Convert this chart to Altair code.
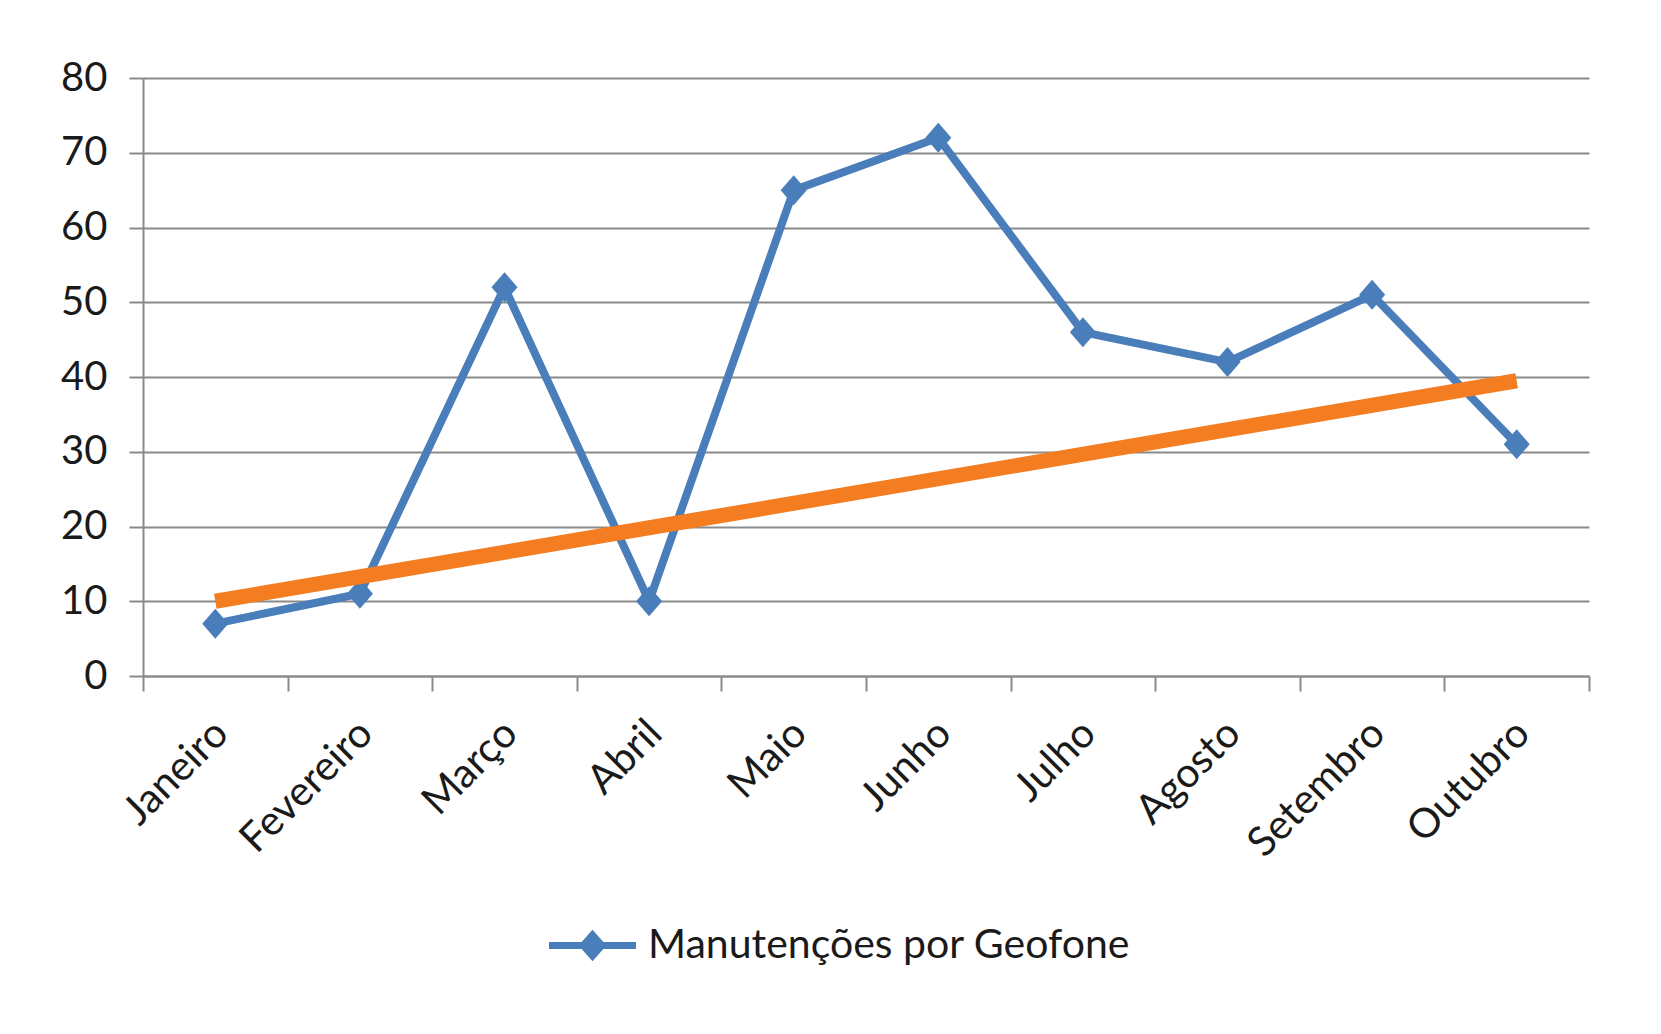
import altair as alt
import pandas as pd

meses = ["Janeiro", "Fevereiro", "Março", "Abril", "Maio", "Junho",
         "Julho", "Agosto", "Setembro", "Outubro"]
manutencoes = [7, 11, 52, 10, 65, 72, 46, 42, 51, 31]
serie_nome = "Manutenções por Geofone"
tendencia_meses = ["Janeiro", "Outubro"]
tendencia_valores = [10, 39.5]
y_ticks = [0, 10, 20, 30, 40, 50, 60, 70, 80]

BLUE = "#4A7EBB"
ORANGE = "#F47D22"
GRID = "#8a8a8a"
FONT = "Lato"

df = pd.DataFrame({"mes": meses, "valor": manutencoes, "serie": serie_nome})
df_t = pd.DataFrame({"mes": tendencia_meses, "valor": tendencia_valores})

x_enc = alt.X(
    "mes:N", sort=meses, bandPosition=0.5,
    scale=alt.Scale(type="band", domain=meses, paddingInner=0, paddingOuter=0),
    axis=alt.Axis(
        title=None, labelAngle=-45, tickBand="extent", grid=False,
        domainColor=GRID, domainWidth=2, tickColor=GRID, tickWidth=2, tickSize=15,
        labelFont=FONT, labelFontSize=41, labelColor="#1a1a1a", labelPadding=22,
        labelOffset=-8,
    ),
)
y_enc = alt.Y(
    "valor:Q",
    scale=alt.Scale(domain=[0, 80], nice=False),
    axis=alt.Axis(
        title=None, values=y_ticks, grid=True, gridColor=GRID, gridWidth=2,
        domainColor=GRID, domainWidth=2, tickColor=GRID, tickWidth=2, tickSize=14,
        labelFont=FONT, labelFontSize=40, labelColor="#1a1a1a", labelPadding=22,
    ),
)

legend_symbol = ("M-1,-0.08L-0.25,-0.08L0,-0.36L0.25,-0.08L1,-0.08L1,0.08"
                 "L0.25,0.08L0,0.36L-0.25,0.08L-1,0.08Z")

linha = alt.Chart(df).mark_line(
    strokeWidth=8,
    point=alt.OverlayMarkDef(shape="M0,-1L0.87,0L0,1L-0.87,0Z", size=900,
                             filled=True, color=BLUE, opacity=1),
).encode(
    x=x_enc, y=y_enc,
    color=alt.Color(
        "serie:N",
        scale=alt.Scale(domain=[serie_nome], range=[BLUE]),
        legend=alt.Legend(
            title=None, orient="none", legendX=406, legendY=824,
            symbolType=legend_symbol, symbolSize=7569,
            symbolFillColor=BLUE, symbolStrokeColor=BLUE, symbolStrokeWidth=0,
            symbolOpacity=1,
            labelFont=FONT, labelFontSize=41, labelColor="#1a1a1a", labelOffset=12,
            labelLimit=800,
        ),
    ),
)

tendencia = alt.Chart(df_t).mark_line(
    color=ORANGE, strokeWidth=15, strokeCap="butt"
).encode(x=x_enc, y=y_enc)

chart = alt.layer(linha, tendencia).properties(
    width=1446, height=598,
    padding={"left": 143, "top": 78, "right": 72, "bottom": 358},
    autosize=alt.AutoSizeParams(type="none"),
    background="white",
).configure_view(stroke=None)

chart.save("out.html", embed_options={"renderer": "svg", "actions": False})
